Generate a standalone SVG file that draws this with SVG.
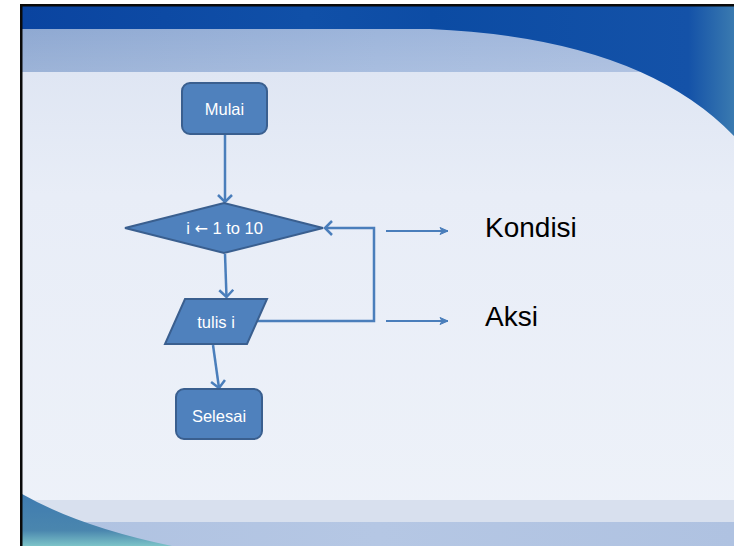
<svg xmlns="http://www.w3.org/2000/svg" width="734" height="546" viewBox="0 0 734 546">
  <defs>
    <linearGradient id="pale" x1="0" y1="0" x2="0" y2="1">
      <stop offset="0" stop-color="#DAE2F1"/>
      <stop offset="0.35" stop-color="#E8EDF7"/>
      <stop offset="1" stop-color="#EEF2F9"/>
    </linearGradient>
    <linearGradient id="lightband" x1="0" y1="0" x2="1" y2="0">
      <stop offset="0" stop-color="#8FA9D2"/>
      <stop offset="0.5" stop-color="#9DB5DB"/>
      <stop offset="1" stop-color="#A8BCDE"/>
    </linearGradient>
    <linearGradient id="lightbandV" x1="0" y1="0" x2="0" y2="1">
      <stop offset="0" stop-color="#FFFFFF" stop-opacity="0"/>
      <stop offset="1" stop-color="#FFFFFF" stop-opacity="0.12"/>
    </linearGradient>
    <linearGradient id="darkband" x1="0" y1="0" x2="1" y2="0">
      <stop offset="0" stop-color="#0A44A0"/>
      <stop offset="0.4" stop-color="#1050A8"/>
      <stop offset="0.7" stop-color="#0B4AA3"/>
      <stop offset="1" stop-color="#1A5AA8"/>
    </linearGradient>
    <linearGradient id="swoosh" x1="0" y1="0" x2="1" y2="0">
      <stop offset="0" stop-color="#0B4BA3"/>
      <stop offset="0.85" stop-color="#1452A8"/>
      <stop offset="1" stop-color="#3A7AB0"/>
    </linearGradient>
    <linearGradient id="wedge" x1="0" y1="0" x2="0" y2="1">
      <stop offset="0" stop-color="#3F7BB0"/>
      <stop offset="0.7" stop-color="#4A86AE"/>
      <stop offset="1" stop-color="#7CC3C8"/>
    </linearGradient>
    <linearGradient id="botband" x1="0" y1="0" x2="1" y2="0">
      <stop offset="0" stop-color="#AFC2E1"/>
      <stop offset="0.5" stop-color="#B5C7E4"/>
      <stop offset="1" stop-color="#AFC2E1"/>
    </linearGradient>
    <marker id="chev" markerUnits="userSpaceOnUse" viewBox="-10 -8 12 16" markerWidth="12" markerHeight="16" refX="0" refY="0" orient="auto">
      <path d="M-7,-7 L0,0 L-7,7" fill="none" stroke="#4A7EBB" stroke-width="2.5"/>
    </marker>
    <marker id="small" markerUnits="userSpaceOnUse" viewBox="-10 -5 11 10" markerWidth="11" markerHeight="10" refX="0" refY="0" orient="auto">
      <path d="M-8,-3.5 L0,0 L-8,3.5 L-6,0 Z" fill="#4A7EBB" stroke="#4A7EBB" stroke-width="1"/>
    </marker>
    <style>
      .node { fill: #4F81BD; stroke: #3A5F8F; stroke-width: 2; }
      .ntext { fill: #FFFFFF; font-family: "Liberation Sans", Arial, sans-serif; font-size: 16.5px; text-anchor: middle; }
      .arr { font-family: "DejaVu Sans", sans-serif; font-size: 16px; }
      .conn { fill: none; stroke: #4A7EBB; stroke-width: 2.5; }
      .thin { fill: none; stroke: #4A7EBB; stroke-width: 2; }
      .label { fill: #000000; font-family: "Liberation Sans", Arial, sans-serif; font-size: 28px; }
    </style>
  </defs>

  <!-- background -->
  <g id="background">
    <rect x="0" y="0" width="734" height="546" fill="#FFFFFF"/>
    <rect x="22" y="6" width="712" height="540" fill="url(#pale)"/>
    <rect x="22" y="29" width="712" height="43" fill="url(#lightband)"/>
    <rect x="22" y="29" width="712" height="43" fill="url(#lightbandV)"/>
    <rect x="22" y="6" width="712" height="23" fill="url(#darkband)"/>
    <path d="M430 29 Q640 38 734 136 L734 6 L430 6 Z" fill="url(#swoosh)"/>
    <rect x="22" y="500" width="712" height="22" fill="#D8E0EE"/>
    <rect x="22" y="522" width="712" height="24" fill="url(#botband)"/>
    <path d="M22 494 Q80 527 172 546 L22 546 Z" fill="url(#wedge)"/>
    <rect x="20" y="4" width="714" height="2.5" fill="#0A0A0A"/>
    <rect x="20" y="4" width="2.5" height="542" fill="#0A0A0A"/>
  </g>

  <!-- connectors -->
  <g id="connectors">
    <line class="conn" x1="225" y1="134" x2="225" y2="202" marker-end="url(#chev)"/>
    <line class="conn" x1="225" y1="254" x2="226.5" y2="297" marker-end="url(#chev)"/>
    <polyline class="conn" points="257,321 374,321 374,228 325,228" marker-end="url(#chev)"/>
    <line class="conn" x1="213" y1="345" x2="219" y2="388" marker-end="url(#chev)"/>
    <line class="thin" x1="386" y1="231" x2="448" y2="231" marker-end="url(#small)"/>
    <line class="thin" x1="386" y1="321" x2="448" y2="321" marker-end="url(#small)"/>
  </g>

  <g id="mulai">
    <rect class="node" x="182" y="83" width="85" height="51" rx="8" ry="8"/>
    <text class="ntext" x="224.5" y="115">Mulai</text>
  </g>

  <g id="loop">
    <polygon class="node" points="125,228 224,203 323,228 224,253"/>
    <text class="ntext" x="224.5" y="234">i <tspan class="arr">←</tspan> 1 to 10</text>
  </g>

  <g id="tulis">
    <polygon class="node" points="185,299 267,299 247,344 165,344"/>
    <text class="ntext" x="216" y="328">tulis i</text>
  </g>

  <g id="selesai">
    <rect class="node" x="176" y="389" width="86" height="50" rx="8" ry="8"/>
    <text class="ntext" x="219" y="422">Selesai</text>
  </g>

  <g id="kondisi">
    <text class="label" x="485" y="237">Kondisi</text>
  </g>

  <g id="aksi">
    <text class="label" x="485" y="326">Aksi</text>
  </g>
</svg>
